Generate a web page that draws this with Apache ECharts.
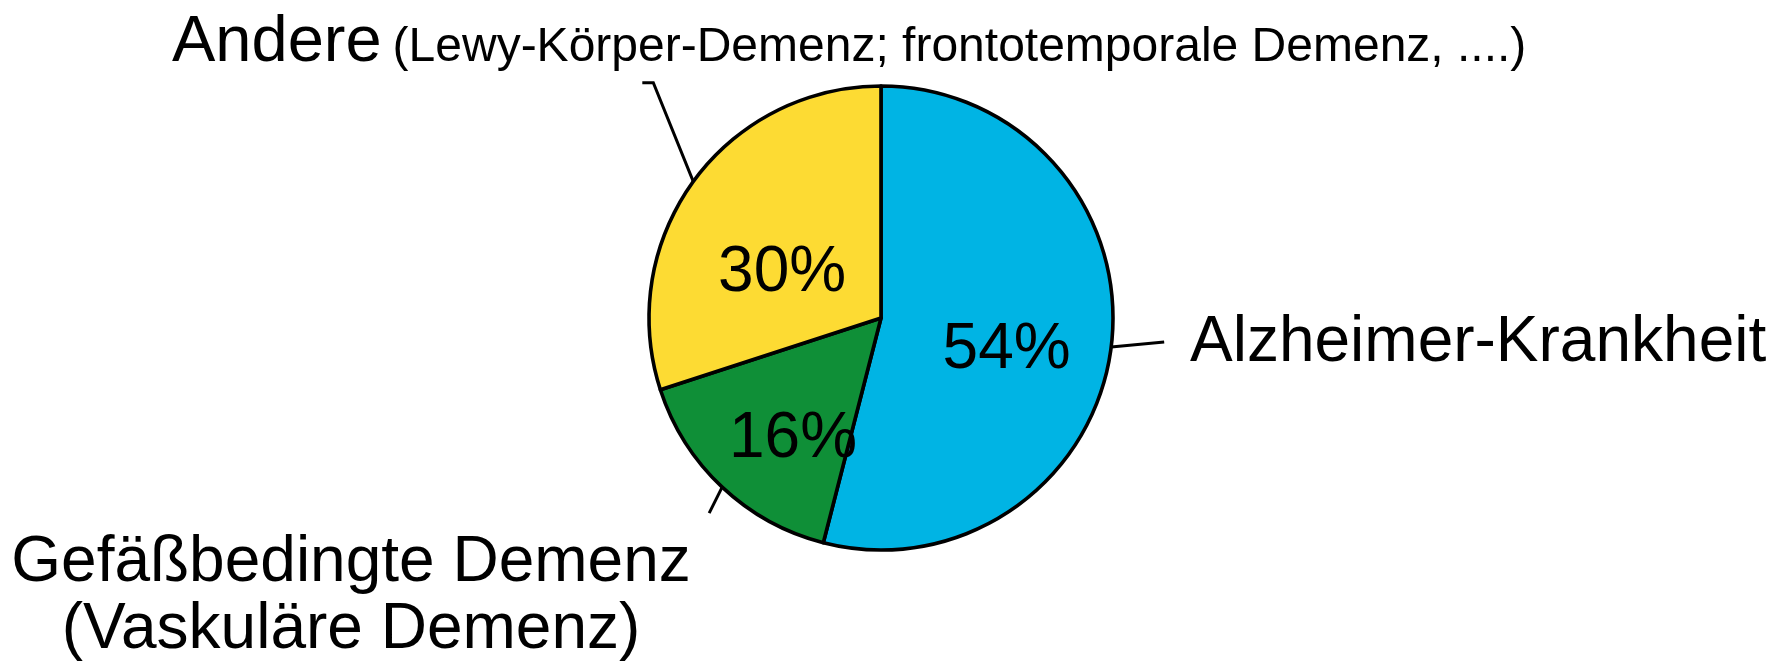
<!DOCTYPE html>
<html><head><meta charset="utf-8">
<script src="https://cdn.jsdelivr.net/npm/echarts@6/dist/echarts.min.js"></script>
<style>html,body{margin:0;padding:0;background:#fff}#c{width:1788px;height:672px}</style>
</head><body><div id="c"></div>
<script>
// ---- data ----
const categories = ['Alzheimer-Krankheit', 'Gefäßbedingte Demenz (Vaskuläre Demenz)', 'Andere (Lewy-Körper-Demenz; frontotemporale Demenz, ....)'];
const values = [54, 16, 30];
const nameLabels = ['{z|Alzheimer-Krankheit}', '{g|Gefäßbedingte Demenz}\n{g|(Vaskuläre Demenz)}', '{a|Andere}{b|(Lewy-Körper-Demenz; frontotemporale Demenz, ....)}'];

// ---- style / layout ----
const colors = ['#00B4E4', '#0F8F37', '#FDDB33'];
const FONT = '"Liberation Sans", Arial, Helvetica, sans-serif';
const CENTER = [881, 318];
const RADIUS = 232;
const pctOffsets = [[7.6, 17], [-6.5, 35], [-2.6, 25.7]];
const namePlacement = [
  { x: 1190, y: 343, align: 'left', verticalAlign: 'middle' },
  { x: 351, y: 530, align: 'center', verticalAlign: 'top' },
  { x: 172, y: 8, align: 'left', verticalAlign: 'top' }
];
const leaderOffsets = [
  [[0, 0], [53, -5]],
  [[0, 0], [-13, 26]],
  [[0, 0], [-40, -99], [-51, -99]]
];

const total = values.reduce((a, b) => a + b, 0);
function edgePoint(i) {
  let before = 0;
  for (let k = 0; k < i; k++) before += values[k];
  const frac = (before + values[i] / 2) / total;
  const ang = frac * 2 * Math.PI; // clockwise from top
  return [CENTER[0] + RADIUS * Math.sin(ang), CENTER[1] - RADIUS * Math.cos(ang)];
}

const pieData = categories.map((c, i) => ({ name: c, value: values[i], itemStyle: { color: colors[i] } }));
const nameData = categories.map((c, i) => ({ name: c, value: values[i] }));

const chart = echarts.init(document.getElementById('c'), null, { renderer: 'canvas' });
chart.setOption({
  backgroundColor: '#ffffff',
  animation: false,
  series: [
    {
      type: 'pie',
      center: CENTER,
      radius: RADIUS,
      startAngle: 90,
      clockwise: true,
      silent: true,
      avoidLabelOverlap: false,
      data: pieData,
      itemStyle: { borderColor: '#000', borderWidth: 3.6 },
      label: {
        show: true,
        position: 'inside',
        formatter: p => p.value + '%',
        fontSize: 64,
        color: '#000',
        fontFamily: FONT
      },
      labelLine: { show: false },
      labelLayout: p => ({ dx: pctOffsets[p.dataIndex][0], dy: pctOffsets[p.dataIndex][1] })
    },
    {
      type: 'pie',
      center: CENTER,
      radius: RADIUS,
      startAngle: 90,
      clockwise: true,
      silent: true,
      avoidLabelOverlap: false,
      data: nameData,
      itemStyle: { color: 'rgba(0,0,0,0)', borderWidth: 0 },
      label: {
        show: true,
        position: 'outside',
        formatter: p => nameLabels[p.dataIndex],
        color: '#000',
        fontFamily: FONT,
        rich: {
          z: { fontSize: 64, lineHeight: 70, fontFamily: FONT, color: '#000' },
          g: { fontSize: 64, lineHeight: 67, fontFamily: FONT, color: '#000', align: 'center' },
          a: { fontSize: 65, lineHeight: 70, fontFamily: FONT, color: '#000' },
          b: { fontSize: 48, lineHeight: 70, padding: [10, 0, 0, 11], fontFamily: FONT, color: '#000' }
        }
      },
      labelLine: { show: true, length: 10, length2: 10, lineStyle: { color: '#000', width: 3 } },
      labelLayout: p => {
        const i = p.dataIndex;
        const pl = namePlacement[i];
        const s = (p.labelLinePoints && p.labelLinePoints[0]) || edgePoint(i);
        const pts = leaderOffsets[i].map(o => [s[0] + o[0], s[1] + o[1]]);
        return { x: pl.x, y: pl.y, align: pl.align, verticalAlign: pl.verticalAlign, labelLinePoints: pts };
      }
    }
  ]
});
</script>
</body></html>
